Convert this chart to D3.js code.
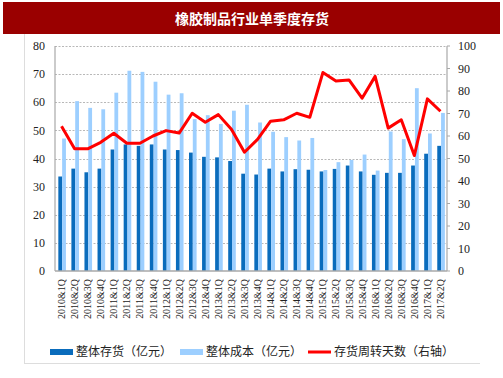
<!DOCTYPE html>
<html>
<head>
<meta charset="utf-8">
<script src="https://cdn.jsdelivr.net/npm/d3@7"></script>
<style>
  body { margin: 0; background: #fff; }
  svg { display: block; }
</style>
</head>
<body>
<div id="chart"></div>
<script>
(function(){

  // quarter labels
  const quarters = [
    "2010&1Q","2010&2Q","2010&3Q","2010&4Q",
    "2011&1Q","2011&2Q","2011&3Q","2011&4Q",
    "2012&1Q","2012&2Q","2012&3Q","2012&4Q",
    "2013&1Q","2013&2Q","2013&3Q","2013&4Q",
    "2014&1Q","2014&2Q","2014&3Q","2014&4Q",
    "2015&1Q","2015&2Q","2015&3Q","2015&4Q",
    "2016&1Q","2016&2Q","2016&3Q","2016&4Q",
    "2017&1Q","2017&2Q"
  ];

  // 整体存货（亿元）
  const inventory = [33.6,36.4,35.1,36.4,43.2,45.0,44.5,45.0,43.2,43.0,42.1,40.6,40.4,39.1,34.6,34.3,
                     36.4,35.4,36.2,36.0,35.4,36.3,37.5,35.4,34.2,34.9,34.9,37.5,41.7,44.5];
  // 整体成本（亿元）
  const cost = [47.1,60.4,58.0,57.5,63.4,71.2,70.8,67.3,62.7,63.2,54.0,55.4,52.3,57.0,59.1,52.8,
                49.5,47.6,46.4,47.3,35.9,38.7,39.5,41.4,35.7,49.6,46.9,65.0,48.9,56.2];
  // 存货周转天数（右轴）
  const turnoverDays = [64.3,54.3,54.3,57.2,61.2,56.8,56.8,60.0,62.4,61.3,70.1,66.1,69.5,63.0,52.8,58.5,
                        66.6,67.2,70.1,68.3,88.2,84.4,84.9,76.8,86.5,63.5,67.2,51.3,76.5,71.0];

  const leftTicks = [0,10,20,30,40,50,60,70,80];
  const rightTicks = [0,10,20,30,40,50,60,70,80,90,100];

  const width = 503, height = 378;
  const margin = { top: 46, right: 56, bottom: 107, left: 55 };

  const svg = d3.select("#chart").append("svg")
    .attr("width", width)
    .attr("height", height);

  // title bar
  svg.append("rect")
    .attr("x", 3).attr("y", 2)
    .attr("width", 497).attr("height", 32)
    .attr("fill", "#9a0000");
  svg.append("text")
    .attr("x", 252).attr("y", 19)
    .attr("dy", "0.35em")
    .attr("text-anchor", "middle")
    .attr("fill", "#fff")
    .style("font-family", "'Noto Sans CJK SC', sans-serif")
    .style("font-weight", "bold")
    .style("font-size", "14px")
    .text("橡胶制品行业单季度存货");

  // frame lines
  svg.append("line")
    .attr("x1", 24.5).attr("x2", 24.5).attr("y1", 34).attr("y2", 363)
    .attr("stroke", "#ddd");
  svg.append("line")
    .attr("x1", 24).attr("x2", 480).attr("y1", 363.5).attr("y2", 363.5)
    .attr("stroke", "#ddd");

  const x = d3.scaleBand()
    .domain(quarters)
    .range([margin.left, width - margin.right]);

  const y = d3.scaleLinear()
    .domain([0, 80])
    .range([height - margin.bottom, margin.top]);

  const y2 = d3.scaleLinear()
    .domain([0, 100])
    .range([height - margin.bottom, margin.top]);

  const cx = d => x(d) + x.bandwidth() / 2;

  // gridlines
  svg.append("g")
    .selectAll("line")
    .data(leftTicks.slice(1))
    .enter().append("line")
    .attr("x1", margin.left).attr("x2", width - margin.right)
    .attr("y1", d => Math.round(y(d)) + 0.5)
    .attr("y2", d => Math.round(y(d)) + 0.5)
    .attr("stroke", "#b8b8b8")
    .attr("stroke-dasharray", "2,1.5");

  // bars
  const barW = 3.8;
  svg.append("g")
    .selectAll("rect")
    .data(inventory)
    .enter().append("rect")
    .attr("x", (d, i) => cx(quarters[i]) - 3.2)
    .attr("y", d => y(d))
    .attr("width", barW)
    .attr("height", d => y(0) - y(d))
    .attr("fill", "#0a6cbc");

  svg.append("g")
    .selectAll("rect")
    .data(cost)
    .enter().append("rect")
    .attr("x", (d, i) => cx(quarters[i]) + 0.6)
    .attr("y", d => y(d))
    .attr("width", barW)
    .attr("height", d => y(0) - y(d))
    .attr("fill", "#9dcfff");

  // axes lines
  const axisColor = "#a8a8a8";
  svg.append("line")
    .attr("x1", margin.left).attr("x2", margin.left)
    .attr("y1", margin.top).attr("y2", y(0))
    .attr("stroke", axisColor).attr("stroke-width", 1.2);
  svg.append("line")
    .attr("x1", width - margin.right).attr("x2", width - margin.right)
    .attr("y1", margin.top).attr("y2", y(0))
    .attr("stroke", axisColor).attr("stroke-width", 1.2);
  svg.append("line")
    .attr("x1", margin.left).attr("x2", width - margin.right)
    .attr("y1", y(0)).attr("y2", y(0))
    .attr("stroke", axisColor).attr("stroke-width", 1.5);

  // right axis ticks
  svg.append("g")
    .selectAll("line")
    .data(rightTicks)
    .enter().append("line")
    .attr("x1", width - margin.right).attr("x2", width - margin.right + 3)
    .attr("y1", d => y2(d)).attr("y2", d => y2(d))
    .attr("stroke", axisColor);

  // turnover line
  const line = d3.line()
    .x((d, i) => cx(quarters[i]))
    .y(d => y2(d));

  svg.append("path")
    .datum(turnoverDays)
    .attr("d", line)
    .attr("fill", "none")
    .attr("stroke", "#ff0000")
    .attr("stroke-width", 3)
    .attr("stroke-linejoin", "round");

  const serif = "'Liberation Serif', 'Times New Roman', serif";

  // left tick labels
  svg.append("g")
    .selectAll("text")
    .data(leftTicks)
    .enter().append("text")
    .attr("x", 45)
    .attr("y", d => y(d))
    .attr("dy", "0.35em")
    .attr("text-anchor", "end")
    .style("font-family", serif)
    .style("font-size", "12px")
    .attr("fill", "#222")
    .text(d => d);

  // right tick labels
  svg.append("g")
    .selectAll("text")
    .data(rightTicks)
    .enter().append("text")
    .attr("x", 458)
    .attr("y", d => y2(d))
    .attr("dy", "0.35em")
    .attr("text-anchor", "start")
    .style("font-family", serif)
    .style("font-size", "12px")
    .attr("fill", "#222")
    .text(d => d);

  // category labels
  svg.append("g")
    .selectAll("text")
    .data(quarters)
    .enter().append("text")
    .attr("transform", d => `translate(${cx(d)},279) rotate(-90)`)
    .attr("dy", "0.35em")
    .attr("text-anchor", "end")
    .style("font-family", serif)
    .style("font-size", "10px")
    .attr("fill", "#222")
    .text(d => d);

  // legend
  const cjk = "'Noto Sans CJK SC', sans-serif";
  const legendY = 352;
  const legend = [
    { label: "整体存货（亿元）", color: "#0a6cbc", type: "bar", x: 50 },
    { label: "整体成本（亿元）", color: "#9dcfff", type: "bar", x: 180 },
    { label: "存货周转天数（右轴）", color: "#ff0000", type: "line", x: 308 }
  ];
  const lg = svg.append("g").selectAll("g")
    .data(legend)
    .enter().append("g");
  lg.append("rect")
    .attr("x", d => d.x)
    .attr("y", d => d.type === "bar" ? legendY - 3 : legendY - 1.5)
    .attr("width", 23)
    .attr("height", d => d.type === "bar" ? 6 : 3)
    .attr("fill", d => d.color);
  lg.append("text")
    .attr("x", d => d.x + 26)
    .attr("y", legendY)
    .attr("dy", "0.35em")
    .style("font-family", cjk)
    .style("font-size", "12px")
    .attr("fill", "#222")
    .text(d => d.label);

})();
</script>
</body>
</html>
